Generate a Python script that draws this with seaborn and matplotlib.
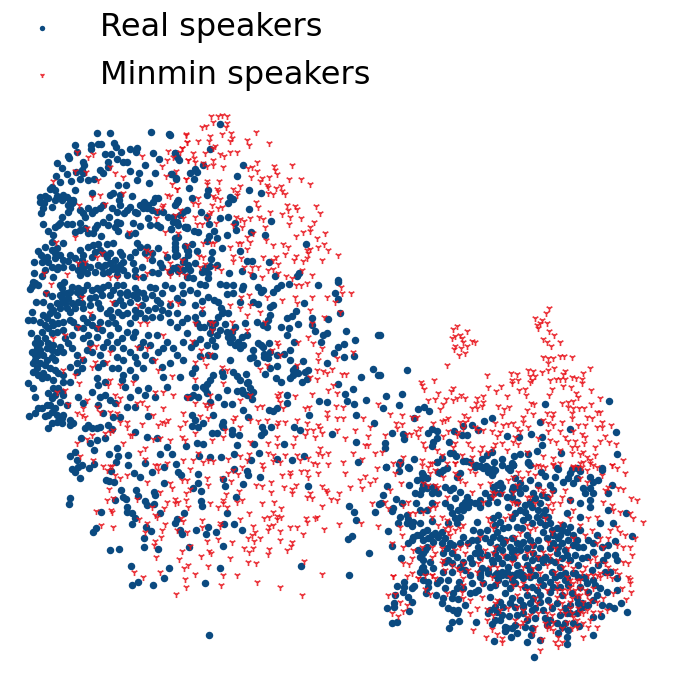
import numpy as np
import matplotlib
matplotlib.use("Agg")
import matplotlib.pyplot as plt
import seaborn as sns

# Points, grouped by area. Each group has its own origin
# and is recorded at 3x scale, as it was read.
SCALE = 3
labels = ["Real speakers", "Minmin speakers"]

origin_a = (20, 110)
real_a = [(232,68),(269,69),(393,65),(447,73),(166,106),(214,104),(233,102),(242,101),(282,100),(288,112),(329,117),(352,113),(347,125),(212,117),(170,127),(143,137),(148,144),(256,131),(274,132),(302,127),(399,129),(465,130),(112,160),(126,175),(190,157),(192,166),(263,155),(292,148),(308,155),(322,156),(376,165),(417,148),(142,192),(107,198),(167,186),(185,180),(190,188),(240,180),(250,190),(265,170),(329,182),(357,190),(404,190),(152,212),(121,215),(180,207),(204,210),(221,208),(295,224),(318,224),(351,210),(387,220),(468,207),(453,193),(95,232),(104,240),(90,237),(110,258),(74,258),(60,262),(72,280),(68,295),(95,290),(62,310),(130,255),(140,262),(150,270),(160,270),(155,280),(150,295),(145,305),(165,240),(215,250),(270,255),(280,250),(300,255),(296,270),(335,258),(240,295),(250,285),(205,295),(215,310),(190,310),(195,320),(180,340),(155,342),(125,322),(120,340),(105,350),(85,362),(98,375),(68,342),(140,342),(165,365),(195,355),(205,368),(220,370),(243,378),(232,345),(250,335),(268,320),(290,305),(312,310),(320,300),(345,307),(290,335),(285,350),(295,362),(340,340),(360,348),(373,275),(385,285),(405,265),(415,265),(395,300),(410,305),(385,325),(390,345),(412,345),(420,350),(443,320),(470,275),(475,270),(452,358),(495,350),(500,355),(360,285),(370,295),(328,375),(345,370),(95,395),(130,400),(110,415),(105,430),(55,422),(62,435),(80,440),(75,450),(42,455),(65,455),(85,455),(120,435),(130,450),(145,452),(180,420),(190,435),(205,410),(220,405),(235,402),(240,420),(225,425),(262,402),(280,400),(300,425),(305,435),(325,375),(350,400),(360,410),(380,410),(395,430),(415,415),(465,410),(470,435),(500,420),(505,435),(260,440),(270,460),(255,465),(285,450),(300,465),(235,465),(210,470),(180,465),(175,480),(155,470),(115,470),(110,478),(42,490),(65,497),(100,500),(180,495),(200,490),(225,485),(250,490),(275,478),(290,480),(310,480),(340,460),(365,470),(345,498),(395,485),(420,460),(415,490),(505,470),(500,500),
          (160,275),(145,285),(125,270),(105,270),(85,265),(60,275),(180,300),(225,300),(275,295),(300,285),(330,290),(380,295),(400,275),(430,305),(460,335),(350,310),(300,340),(265,345),(225,355),(180,360),(115,345),(75,410),(95,420),(105,445),(95,470),(150,435),(165,445),(185,450),(195,465),(215,440),(250,430),(270,430),(285,470),(310,455),(330,440),(345,425),(375,430),(395,450),(440,440),(490,455),(130,470),(75,480),(190,480),(245,470),(265,485),(290,495),(320,495),(370,500),(425,470),(470,470),(345,480)]
minmin_a = [(497,75),(502,95),(485,113),(480,125),(443,122),(460,140),(440,150),(425,167),(503,150),(468,183),(367,137),(205,140),(218,133),(170,125),(165,182),(198,185),(270,170),(285,188),(308,200),(233,210),(100,214),(437,197),(497,207),(455,222),(472,237),(440,255),(450,258),(240,255),(215,262),(177,285),(255,282),(310,250),(430,285),(480,300),(465,315),(490,325),(408,325),(200,355),(108,397),(327,365),(435,365),(475,370),(500,405),(435,430),(378,420),(390,425),(230,440),(245,430),(72,488),(140,492),(175,460),(195,455),(380,445),(450,458),(485,450),(440,480),(450,495),(478,490),(495,495),(270,500),(290,500),(355,500),(380,490),(410,300),(425,290),(165,380)]

origin_b = (170, 110)
real_b = [(150,43),(0,75),(15,130),(22,140),(26,150),(120,118),(98,165),(220,166),(7,193),(18,205),(60,190),(75,178),(82,185),(72,207),(200,199),(56,235),(115,240),(110,255),(236,240),(273,249),(65,265),(180,260),(190,267),(175,280),(22,275),(15,285),(238,296),(50,300),(40,305),(30,315),(92,305),(110,320),(10,322),(20,335),(151,323),(174,322),(195,338),(118,342),(304,334),(45,352),(50,350),(3,358),(25,345),(198,360),(132,363),(85,367),(72,362),(242,365),(285,374),(172,376),(118,378),(140,385),(110,393),(25,380),(15,385),(15,400),(65,403),(45,408),(55,422),(155,415),(15,420),(80,424),(126,427),(407,402),(15,438),(42,450),(124,447),(210,422),(230,452),(246,453),(298,457),(142,465),(76,458),(55,465),(120,468),(8,475),(25,482),(40,480),(60,480),(95,487),(105,475),(115,490),(177,490),(215,483),(250,497),(316,498),(380,497),(388,490),(115,505),(55,500),(70,505),(0,485),(505,510)]
minmin_b = [(122,18),(145,18),(155,15),(172,18),(128,35),(172,40),(168,50),(108,48),(97,52),(257,65),(47,73),(155,72),(184,70),(120,77),(186,85),(180,92),(230,90),(52,95),(84,93),(116,93),(298,100),(236,106),(135,108),(128,115),(35,113),(180,127),(202,125),(70,130),(105,130),(150,133),(162,137),(72,143),(55,150),(130,150),(75,155),(262,155),(128,165),(100,160),(158,172),(110,168),(312,168),(366,166),(245,170),(235,175),(315,180),(262,184),(322,192),(243,200),(298,200),(47,207),(275,205),(270,213),(357,206),(392,206),(112,212),(147,213),(112,222),(210,228),(420,222),(290,225),(295,230),(22,237),(140,237),(145,243),(188,238),(200,245),(332,228),(318,235),(335,243),(345,252),(295,248),(310,252),(130,257),(135,265),(150,268),(85,265),(200,255),(258,277),(85,282),(125,285),(265,290),(143,293),(155,292),(352,285),(375,288),(382,298),(438,287),(70,280),(300,305),(122,305),(355,300),(450,308),(117,312),(110,325),(75,322),(198,322),(210,328),(222,332),(240,325),(267,320),(280,328),(337,313),(360,322),(392,323),(432,335),(82,342),(97,342),(138,340),(190,345),(215,350),(285,350),(358,342),(420,350),(420,362),(400,367),(465,368),(378,378),(250,370),(232,380),(240,395),(442,385),(287,390),(98,398),(122,398),(132,398),(308,405),(338,402),(355,412),(462,403),(180,410),(205,400),(212,400),(232,418),(445,412),(412,420),(420,418),(473,420),(345,432),(415,430),(378,437),(503,435),(188,438),(88,438),(100,440),(278,442),(318,440),(412,445),(213,445),(188,452),(308,450),(372,450),(398,452),(455,450),(105,462),(222,470),(247,470),(265,470),(325,462),(135,470),(295,480),(310,478),(395,480),(152,480),(240,490),(427,494),(348,498),(275,500),(325,490),(365,503),(90,470),(30,470)]

origin_c = (20, 280)
real_c = [(45,8),(35,18),(30,28),(132,5),(125,25),(130,40),(125,55),(135,70),(155,20),(175,25),(190,30),(215,30),(232,25),(265,15),(290,15),(310,15),(345,25),(340,45),(370,40),(390,20),(435,15),(455,25),(485,15),(78,38),(97,48),(48,65),(68,67),(110,70),(90,78),(70,105),(90,100),(110,105),(35,97),(40,120),(25,120),(32,160),(100,135),(115,130),(130,125),(150,120),(150,95),(165,85),(185,70),(190,85),(210,75),(235,70),(240,85),(260,100),(275,110),(285,70),(300,60),(310,75),(330,65),(345,90),(365,75),(395,45),(405,85),(425,90),(450,75),(485,65),(490,40),(470,100),(420,110),(395,110),(375,115),(330,130),(305,105),(265,130),(240,125),(215,110),(190,115),(170,140),(130,150),(110,155),(95,160),(75,175),(60,190),(50,205),(35,215),(45,225),(60,210),(70,225),(95,230),(105,240),(80,240),(40,275),(25,310),(40,325),(45,350),(65,295),(55,285),(80,290),(105,270),(115,280),(130,285),(150,260),(170,275),(185,265),(190,240),(170,225),(155,205),(145,190),(135,175),(155,165),(190,175),(205,165),(230,170),(245,150),(270,165),(290,185),(250,200),(240,225),(305,175),(340,170),(370,185),(385,165),(410,165),(440,185),(460,205),(490,185),(500,160),(470,140),(450,125),(415,215),(395,240),(345,230),(350,250),(330,270),(310,240),(290,230),(275,265),(235,260),(230,295),(235,315),(215,335),(240,350),(270,360),(285,370),(255,345),(315,320),(305,300),(345,290),(370,265),(385,325),(375,345),(405,352),(440,320),(480,290),(430,290),(500,350),(100,325),(125,335),(105,345),(95,355),(120,365),(90,375),(55,385),(65,385),(45,400),(28,407),(75,407),(95,395),(110,405),(130,405),(125,430),(150,435),(160,430),(205,435),(215,445),(240,440),(265,435),(275,447),(300,410),(320,380),(345,380),(385,408),(345,455),(380,470),(410,475),(95,430),(85,445),(183,475),(210,490),(230,480),(255,475),(290,505),(498,498),(440,500),
          (120,15),(140,40),(120,45),(145,55),(130,65),(55,15),(40,5),(150,35),(170,35),(200,15),(240,30),(250,20),(280,30),(320,35),(355,35),(375,55),(350,55),(320,45),(300,40),(270,45),(245,45),(225,50),(180,45),(210,55),(155,70),(175,65),(140,85),(120,85),(100,90),(80,115),(60,125),(75,135),(95,125),(85,145),(65,155),(50,175),(45,190),(85,190),(100,195),(120,200),(130,215),(110,215),(95,210),(80,205),(55,225),(45,240),(60,250),(75,255),(90,265),(70,280),(50,265),(40,250),(100,300),(130,305),(150,305),(170,250),(200,210),(210,190),(230,145),(215,135),(190,145),(200,125),(160,125),(270,90),(295,95),(320,100),(345,110),(360,100),(385,90),(410,60),(425,40),(405,25),(420,70),(445,100),(470,55),(485,125),(500,115),(345,155),(320,155),(295,145),(285,130),(260,185),(275,205),(310,205),(330,215),(360,200),(390,195),(430,205),(470,225),(490,240),(450,250),(425,260),(375,225),(295,265),(310,285),(255,305),(250,250),(215,215),(130,345),(115,325),(85,340),(80,375),(105,385),(140,375),(85,405),(175,350),(190,370),(235,375),(250,400),(280,410),(330,350),(355,330),(230,445),(195,445),(150,420),(110,425),(125,415)]
minmin_c = [(92,13),(78,38),(185,50),(275,65),(355,75),(450,65),(475,70),(210,100),(235,140),(175,140),(360,130),(380,130),(430,165),(100,175),(135,165),(210,200),(228,198),(270,215),(225,245),(215,260),(350,200),(380,205),(405,240),(260,245),(185,235),(130,270),(165,285),(178,310),(415,270),(455,287),(340,305),(300,315),(265,315),(270,300),(110,335),(135,330),(200,360),(285,345),(300,355),(295,370),(405,335),(430,335),(460,345),(240,395),(230,382),(145,372),(190,385),(350,370),(365,365),(380,382),(430,385),(500,350),(170,400),(185,405),(195,410),(270,395),(290,400),(400,405),(425,425),(435,430),(320,425),(320,440),(300,425),(335,465),(365,432),(415,435),(445,420),(480,440),(495,425),(215,465),(255,460),(270,455),(280,450),(330,465),(400,478),(420,475),(450,480),(485,472),(495,480),(170,490),(200,478),(310,490),(375,505),(490,400),(505,350)]

origin_d = (190, 280)
real_d = [(22,38),(30,12),(45,15),(90,12),(108,15),(130,15),(158,18),(155,28),(205,20),(220,30),(212,35),(250,35),(260,25),(272,15),(297,12),(384,15),(444,5),(436,38),(445,58),(110,42),(130,40),(72,60),(35,62),(15,75),(150,65),(190,65),(203,72),(240,80),(250,75),(342,68),(92,85),(100,95),(115,100),(35,100),(15,110),(240,105),(200,125),(290,115),(318,92),(305,108),(367,113),(413,117),(450,100),(325,132),(365,135),(273,140),(297,145),(232,142),(30,140),(42,140),(105,132),(135,140),(165,130),(90,150),(65,145),(375,153),(400,165),(410,160),(467,152),(565,165),(82,165),(115,170),(125,175),(170,165),(30,178),(65,180),(75,197),(120,185),(135,195),(160,195),(150,205),(190,210),(212,195),(220,200),(237,188),(290,165),(312,187),(393,187),(462,192),(445,202),(495,180),(300,210),(432,218),(282,222),(30,228),(55,225),(72,228),(3,200),(190,230),(180,235),(222,230),(222,222),(120,240),(300,240),(340,243),(462,232),(493,227),(260,257),(240,265),(410,250),(15,265),(7,280),(70,285),(100,288),(130,275),(142,288),(168,282),(225,282),(308,270),(310,285),(300,295),(345,275),(355,270),(350,298),(335,305),(258,293),(272,307),(512,290),(550,268),(563,285),(445,312),(490,328),(465,342),(15,320),(50,312),(45,328),(52,340),(110,330),(140,333),(155,330),(175,305),(180,325),(190,335),(170,345),(185,358),(60,365),(85,350),(25,350),(292,345),(388,363),(410,365),(470,362),(527,361),(102,372),(127,373),(158,389),(290,370),(237,390),(250,392),(262,385),(493,373),(68,405),(5,405),(497,404),(173,411),(358,404),(100,425),(97,435),(40,428),(25,440),(5,438),(100,442),(125,450),(215,442),(243,440),(312,440),(330,450),(552,430),(65,460),(80,460),(147,465),(125,462),(222,455),(212,465),(427,462),(20,490),(40,493),(142,495),(193,491),(282,492),(497,486),(0,350),(15,420),
          (0,30),(55,50),(85,65),(95,100),(85,110),(60,130),(20,130),(75,130),(155,170),(145,185),(125,155),(110,155),(60,160),(50,195),(15,190),(220,135),(235,120),(205,190),(240,215),(260,225),(315,265),(325,280),(200,250),(235,235),(170,310),(150,300),(40,320),(10,345),(160,340),(95,275),(60,300)]
minmin_d = [(317,15),(332,15),(350,8),(453,22),(482,38),(410,50),(455,40),(315,50),(365,50),(320,68),(435,65),(275,60),(152,52),(178,45),(230,50),(360,90),(180,75),(450,95),(365,130),(402,112),(120,75),(150,85),(127,125),(210,95),(225,125),(170,105),(70,130),(60,125),(35,85),(65,150),(15,130),(130,150),(170,150),(260,185),(265,195),(245,210),(325,185),(355,170),(370,190),(395,205),(385,222),(270,225),(385,240),(440,235),(490,215),(7,183),(32,210),(60,222),(40,235),(15,245),(48,255),(95,260),(110,270),(210,268),(230,255),(320,255),(400,272),(425,268),(380,270),(455,282),(468,282),(410,280),(360,290),(380,298),(440,340),(430,315),(15,298),(270,340),(265,355),(260,345),(315,348),(365,343),(415,330),(60,345),(100,310),(180,345),(150,360),(270,365),(280,385),(15,370),(50,380),(45,372),(62,375),(358,380),(345,385),(438,378),(460,382),(565,372),(215,378),(200,380),(410,395),(410,410),(520,415),(540,440),(30,408),(55,415),(135,412),(130,420),(180,420),(205,422),(230,420),(265,425),(285,425),(320,420),(350,430),(385,435),(390,445),(440,415),(460,415),(105,450),(15,460),(150,440),(260,435),(350,450),(370,450),(395,460),(495,450),(535,468),(440,450),(65,480),(100,470),(180,485),(235,490),(260,470),(315,470),(345,465),(375,470),(390,505),(465,475),(525,495),(535,495),(262,495),(310,495)]

origin_e = (60, 450)
real_e = [(45,7),(30,17),(50,30),(103,0),(147,12),(175,17),(204,15),(299,12),(335,12),(418,17),(450,20),(482,22),(521,12),(596,9),(573,30),(650,28),(697,30),(732,18),(893,35),(168,35),(205,45),(254,40),(313,52),(347,43),(523,58),(66,45),(53,50),(37,57),(45,65),(86,54),(101,42),(154,62),(223,70),(240,82),(275,66),(355,65),(363,75),(415,71),(561,62),(565,75),(599,82),(61,83),(138,90),(146,92),(162,96),(312,100),(415,98),(398,113),(488,88),(495,108),(549,102),(743,109),(228,119),(184,121),(282,125),(284,135),(424,122),(190,140),(235,137),(197,148),(166,151),(30,144),(27,161),(254,153),(261,165),(281,161),(422,153),(427,168),(528,142),(866,167),(956,161),(200,170),(200,185),(122,187),(215,188),(301,188),(373,190),(502,190),(883,185),(944,187),(225,205),(352,206),(344,218),(216,222),(889,210),(493,222),(523,222),(259,231),(445,230),(109,233),(98,245),(273,243),(361,240),(367,252),(408,239),(439,252),(469,245),(547,241),(251,265),(875,257),(865,267),(252,291),(293,298),(388,292),(488,289),(150,300),(178,296),(928,310),(214,347),(327,353),(480,353),(724,348),(311,383),(868,376),(233,397),(216,404),(279,404),(436,399),(448,556)]
minmin_e = [(60,17),(100,30),(128,47),(150,48),(155,47),(255,28),(240,5),(285,45),(295,45),(320,38),(370,30),(400,30),(415,10),(430,35),(445,30),(460,32),(505,28),(540,17),(568,12),(560,30),(545,52),(625,10),(640,15),(605,42),(640,33),(660,35),(675,15),(710,15),(720,30),(745,25),(760,40),(770,42),(775,10),(785,15),(805,8),(805,42),(850,35),(880,8),(905,27),(945,10),(950,55),(140,60),(165,75),(180,85),(200,75),(295,60),(390,58),(505,70),(520,60),(535,72),(610,55),(690,65),(665,75),(690,75),(722,62),(742,62),(745,80),(775,68),(855,68),(915,78),(900,90),(945,88),(930,98),(365,90),(380,90),(440,85),(262,96),(330,100),(335,115),(443,105),(485,85),(512,93),(587,105),(607,108),(632,97),(672,110),(708,105),(785,108),(798,120),(870,110),(905,113),(147,117),(300,125),(378,130),(390,118),(537,122),(497,132),(634,125),(695,118),(695,130),(750,128),(742,140),(757,145),(802,125),(838,130),(140,150),(158,145),(230,148),(345,147),(378,150),(345,160),(355,155),(450,158),(490,150),(530,155),(547,150),(641,155),(606,160),(812,147),(830,150),(320,155),(275,170),(313,175),(385,172),(475,170),(490,160),(502,172),(663,175),(786,168),(937,160),(107,183),(153,180),(155,187),(285,195),(290,200),(568,188),(640,185),(612,203),(628,200),(650,198),(662,200),(650,207),(738,205),(765,205),(772,200),(540,207),(362,205),(368,213),(425,210),(236,207),(260,218),(315,222),(305,240),(123,225),(160,232),(425,230),(480,218),(480,228),(578,228),(628,228),(640,226),(625,240),(690,231),(710,230),(740,215),(793,237),(837,222),(903,220),(955,227),(350,240),(380,245),(255,247),(585,245),(575,255),(660,243),(730,252),(303,262),(285,272),(283,285),(440,272),(473,268),(565,265),(600,265),(583,272),(516,276),(661,269),(695,275),(693,288),(390,288),(552,295),(580,293),(626,298),(682,300),(365,302),(447,302),(453,308),(568,307),(623,313),(289,320),(422,318),(509,323),(358,328),(565,335),(587,340),(733,332),(373,355),(384,346),(443,347),(223,366),(299,366),(405,371),(490,375),(530,374),(787,371),(249,380),(375,387),(591,397),(377,411),(483,405),(660,412),(349,433),(727,435)]

origin_f = (380, 300)
real_f = [(0,105),(80,209),(0,225),(17,287),(66,282),(57,315),(9,325),(113,328),(132,320),(147,334),(102,355),(336,355),(312,364),(480,367),(248,377),(275,376),(295,390),(156,386),(172,394),(223,392),(145,400),(37,398),(69,402),(72,418),(170,413),(160,425),(155,438),(245,405),(262,405),(380,407),(453,403),(485,411),(417,412),(571,386),(208,425),(15,430),(15,445),(485,436),(470,452),(543,460),(210,460),(218,458),(228,468),(320,466),(305,478),(402,468),(420,462),(443,462),(335,457),(170,485),(250,484),(258,483),(342,486),(365,478),(395,490),(398,495),(445,485),(450,495),(287,494),(300,498),(318,498),(367,495),(325,505),(60,485),(57,493),(87,503),(102,478),(18,500),(494,311),(688,304),(707,396),(712,462),(200,503),(340,506),(530,505),(575,507),(590,505),(665,505),(185,475)]
minmin_f = [(508,23),(498,40),(464,53),(487,60),(480,68),(500,68),(470,75),(475,85),(507,92),(523,104),(489,118),(502,126),(541,127),(514,139),(232,78),(219,88),(261,92),(240,105),(225,108),(217,113),(245,115),(275,122),(285,126),(250,125),(260,137),(225,137),(243,145),(222,148),(255,158),(238,165),(201,196),(489,172),(505,175),(520,173),(540,168),(553,168),(575,170),(505,190),(630,203),(393,218),(445,210),(458,212),(485,215),(505,210),(523,205),(555,212),(548,222),(610,218),(322,225),(412,222),(450,228),(465,228),(163,240),(395,240),(415,240),(395,250),(455,240),(450,246),(510,240),(527,236),(540,238),(555,238),(575,232),(587,235),(605,238),(607,248),(122,247),(127,255),(132,266),(362,257),(325,262),(348,273),(417,270),(435,268),(220,263),(212,272),(175,278),(515,268),(550,258),(572,260),(632,270),(437,285),(382,288),(507,285),(587,280),(593,290),(243,285),(255,295),(232,293),(290,293),(310,288),(144,300),(165,298),(197,298),(220,300),(660,295),(308,305),(305,318),(288,310),(275,325),(290,325),(545,310),(565,305),(580,303),(634,313),(452,310),(463,312),(355,318),(387,322),(373,328),(181,328),(190,312),(565,320),(580,325),(598,325),(612,325),(440,330),(650,335),(660,337),(500,340),(520,338),(575,340),(30,343),(66,344),(365,345),(460,343),(428,350),(253,345),(95,352),(110,352),(205,355),(185,362),(195,360),(515,350),(620,350),(637,355),(490,360),(47,368),(65,372),(160,368),(240,365),(255,365),(265,355),(345,370),(370,375),(385,372),(400,368),(430,365),(505,370),(520,375),(547,365),(575,355),(593,375),(615,375),(667,367),(693,376),(650,382),(665,380),(50,385),(120,385),(108,392),(205,393),(235,395),(250,385),(285,380),(295,390),(310,390),(335,392),(360,395),(410,385),(420,392),(445,380),(505,392),(540,393),(580,393),(15,405),(80,403),(92,403),(115,408),(190,408),(230,405),(350,408),(405,410),(555,412),(605,403),(615,410),(675,408),(475,415),(510,420),(527,425),(563,423),(585,422),(612,430),(660,422),(687,425),(708,433),(130,428),(135,445),(225,430),(265,428),(365,430),(400,425),(345,432),(415,432),(590,442),(575,440),(610,455),(645,442),(5,455),(170,450),(220,440),(275,445),(305,440),(340,445),(380,450),(440,455),(540,450),(575,460),(600,462),(645,466),(620,472),(185,465),(245,465),(275,470),(300,455),(325,455),(490,468),(520,475),(70,470),(125,480),(155,490),(225,488),(272,490),(465,497),(483,497),(520,495),(540,490),(608,487),(630,480),(730,480),(695,495),(710,505),(125,495),(40,490),(580,500),(595,500),(640,495)]

origin_g = (380, 460)
real_g = [(18,20),(60,10),(85,22),(58,33),(125,38),(125,55),(110,60),(140,55),(180,40),(190,30),(170,5),(270,5),(300,18),(340,35),(345,30),(385,25),(400,15),(88,75),(22,78),(8,105),(47,118),(65,128),(3,130),(40,145),(35,152),(108,130),(125,88),(120,102),(105,100),(155,100),(160,80),(195,82),(220,85),(240,95),(225,115),(260,110),(270,125),(315,100),(350,75),(365,80),(345,95),(380,110),(395,90),(265,140),(250,150),(300,140),(325,130),(350,125),(385,140),(60,170),(85,178),(80,190),(55,190),(95,198),(120,190),(155,183),(140,210),(23,212),(100,230),(120,225),(145,235),(165,220),(195,235),(210,250),(240,170),(290,185),(320,210),(345,195),(350,215),(340,230),(300,215),(250,230),(280,210),(85,250),(35,258),(140,260),(130,280),(120,290),(130,300),(125,325),(63,293),(160,325),(190,280),(215,280),(230,290),(295,260),(300,275),(275,310),(320,285),(325,330),(350,260),(370,250),(390,260),(365,310),(385,320),(215,335),(400,295),(350,340),(300,345),(270,345),(130,320),
          (130,45),(175,35),(230,50),(240,40),(285,20),(310,25),(325,35),(335,45),(360,70),(340,80),(360,100),(330,110),(300,120),(285,130),(255,125),(245,135),(210,90),(175,100),(165,90),(140,85),(130,75),(215,160),(225,175),(230,190),(205,190),(185,215),(175,230),(155,225),(130,215),(110,225),(95,240),(130,240),(160,245),(185,250),(200,265),(220,255),(240,250),(265,250),(275,240),(290,240),(315,235),(330,245),(360,235),(375,240),(395,235),(340,175),(355,165),(360,185),(370,205),(385,200),(300,290),(285,280),(270,295),(250,305),(205,300),(215,310),(195,305),(150,305),(135,270),(115,270),(135,335),(305,325),(340,310),(355,295),(380,290),(395,275),(365,270),(345,280),(335,300),(395,345),(380,345),(365,335),(240,320),(255,330),(100,185),(80,165),(155,130),(140,150),(120,150),(195,130),(210,140),(235,150)]
minmin_g = [(45,40),(62,70),(30,90),(15,125),(25,145),(68,135),(85,125),(90,160),(105,160),(130,155),(150,145),(165,140),(185,170),(200,180),(210,200),(205,215),(60,200),(67,225),(35,250),(68,262),(125,260),(155,290),(165,280),(97,295),(87,313),(70,310),(40,348),(113,355),(155,345),(135,345),(185,310),(232,325),(250,310),(295,310),(305,295),(260,255),(345,100),(340,110),(150,10),(200,10),(225,10),(270,30),(285,40),(190,50),(150,40),(165,30),(225,40),(235,50),(165,75),(175,80),(60,10),(345,260),(370,285),(325,175),(250,195),(240,205),(225,270),(145,20),
            (130,70),(145,75),(240,60),(255,70),(300,75),(330,70),(335,95),(365,100),(385,60),(275,95),(310,125),(200,110),(170,130),(155,170),(175,195),(195,205),(225,210),(210,225),(340,205),(330,190),(300,230),(375,175),(390,165),(240,260),(185,265),(155,260),(100,270),(190,300),(215,315),(255,280),(315,270),(340,280),(380,240),(395,305),(330,320),(350,320),(265,330),(290,335),(195,330),(95,340),(165,355),(250,355)]

origin_h = (510, 460)
real_h = [(8,15),(55,10),(145,28),(92,35),(105,48),(135,50),(85,75),(120,75),(60,60),(180,40),(210,32),(240,50),(275,30),(160,65),(190,70),(220,85),(250,100),(295,100),(305,75),(30,100),(20,125),(75,115),(90,130),(45,135),(45,155),(105,150),(210,130),(240,140),(180,120),(240,120),(295,150),(347,160),(310,190),(270,190),(210,170),(170,160),(80,170),(40,180),(65,190),(120,190),(20,200),(35,205),(100,215),(140,205),(170,215),(210,210),(260,225),(365,228),(315,243),(235,240),(145,235),(150,225),(50,225),(10,235),(20,250),(70,255),(90,265),(130,250),(190,255),(205,260),(250,275),(315,285),(165,270),(140,280),(30,270),(45,290),(10,295),(65,300),(105,290),(180,300),(205,315),(230,290),(290,285),(320,300),(300,335),(20,315),(60,330),(15,345),(150,320),(135,305),(190,340),(225,355),(320,355),(105,350),
          (10,80),(25,85),(5,110),(15,160),(5,175),(60,125),(65,140),(85,150),(100,165),(115,170),(30,150),(55,170),(90,185),(105,195),(125,210),(130,225),(160,195),(155,210),(180,200),(190,225),(175,240),(155,250),(110,235),(85,240),(60,240),(40,245),(30,255),(15,270),(50,265),(70,280),(85,295),(100,305),(120,300),(120,265),(145,260),(200,240),(220,260),(250,250),(275,260),(295,255),(280,300),(265,315),(245,330),(215,295),(195,285),(170,285),(155,295),(85,320),(75,345),(40,345),(30,335),(50,315),(125,335),(135,350),(165,340),(170,355),(205,350),(285,335),(240,85),(225,100),(265,60),(250,65),(200,55),(175,55),(130,90),(110,110),(95,105),(70,100),(45,85),(30,70),(15,55),(0,30)]
minmin_h = [(128,12),(85,15),(105,20),(190,18),(215,20),(232,30),(345,40),(305,15),(25,35),(55,35),(75,45),(35,55),(10,50),(275,45),(285,90),(295,80),(325,85),(340,88),(363,115),(380,120),(305,135),(180,120),(130,130),(115,135),(75,130),(125,150),(280,125),(360,160),(370,175),(400,185),(330,155),(310,150),(150,190),(180,175),(210,195),(300,210),(330,215),(360,260),(340,260),(270,235),(295,235),(280,260),(320,255),(365,285),(355,310),(340,305),(295,320),(255,290),(260,310),(175,265),(135,265),(100,275),(65,275),(40,320),(70,325),(110,315),(160,320),(215,335),(250,345),(270,350),(355,350),(15,130),(60,210),(125,95),(20,75),(210,10),(240,10),(60,110),(85,85),(100,100),
            (10,95),(5,125),(25,130),(50,110),(100,90),(120,110),(150,130),(105,175),(50,195),(30,220),(15,230),(75,205),(125,215),(115,245),(65,255),(20,285),(50,280),(85,290),(120,285),(190,235),(225,225),(245,210),(260,250),(240,300),(225,320),(145,300),(175,310),(190,325),(90,340),(60,345),(135,335),(305,355),(285,310),(315,330),(375,235),(345,225),(320,200),(260,170),(235,175),(190,150),(155,110),(165,90),(210,55),(260,20),(230,65)]

origin_i = (380, 570)
real_i = [(120,5),(190,5),(50,47),(72,37),(72,50),(103,48),(96,55),(128,30),(145,50),(170,40),(195,55),(220,70),(237,35),(190,85),(185,100),(205,115),(235,120),(230,128),(237,152),(215,157),(206,174),(287,155),(137,70),(168,75),(70,65),(85,80),(95,97),(45,75),(42,100),(42,110),(22,115),(87,122),(37,158),(52,155),(270,70),(300,20),(310,40),(325,10),(345,45),(375,70),(390,55),(330,120),(352,127),(335,162),(360,150),(388,138),(430,130),(375,170),(375,182),(405,165),(410,188),(392,200),(342,213),(442,217),(452,195),(465,145),(490,120),(495,145),(500,165),(535,190),(560,200),(562,222),(461,262),(638,196),(598,168),(740,125),(722,98),(702,115),(686,107),(664,137),(570,130),(545,75),(595,100),(510,35),(470,60),(420,15),(380,5),(410,10),(450,20),(540,15),(585,10),(640,30),(690,5),(710,60),(660,55),(610,20),(440,75),(420,90),(465,115),(505,90),(560,130),(580,160),(235,88),(255,105),(285,65),(330,80),(360,95),(520,50),(625,65),(640,90),(480,210),(565,180),
          (300,5),(345,15),(355,30),(365,15),(395,30),(405,40),(430,25),(435,50),(455,50),(480,30),(490,45),(525,20),(555,30),(565,45),(540,50),(575,70),(590,85),(605,100),(600,115),(570,105),(555,115),(530,100),(515,115),(480,95),(450,100),(430,105),(405,110),(390,100),(370,110),(345,110),(325,130),(345,150),(365,135),(410,135),(430,110),(455,120),(440,150),(395,175),(380,175),(455,175),(435,170),(510,150),(530,160),(545,170),(555,160),(540,135),(590,130),(610,110),(625,105),(650,75),(680,65),(645,45),(620,40),(600,50),(665,105),(640,140),(215,85),(220,120),(275,40),(250,55),(230,55),(205,30),(180,30),(145,35),(510,65),(480,75),(460,85),(395,85),(375,40),(330,50),(295,60)]
minmin_i = [(40,18),(80,18),(115,25),(155,15),(25,75),(45,72),(60,95),(80,105),(68,122),(35,128),(55,138),(135,58),(150,72),(200,70),(245,65),(250,85),(270,90),(290,115),(270,130),(305,80),(320,118),(280,180),(318,202),(350,192),(367,203),(365,217),(335,178),(430,155),(465,170),(487,208),(480,240),(525,215),(535,227),(547,215),(608,200),(624,172),(652,170),(520,155),(500,175),(520,180),(640,125),(680,120),(737,88),(752,65),(725,55),(717,12),(750,28),(750,38),(680,15),(650,15),(580,40),(590,75),(620,75),(545,100),(570,115),(590,150),(630,150),(500,130),(350,90),(345,100),(410,75),(430,40),(250,45),(240,5),(305,40),(335,20),(400,45),(470,100),(510,170),(560,20),(600,30),(660,10),(700,70),(610,130),(410,110),(440,140),
            (350,40),(390,20),(440,15),(475,45),(500,60),(530,40),(570,50),(600,55),(640,55),(670,85),(650,95),(610,95),(575,85),(555,75),(540,120),(515,135),(495,160),(475,130),(450,135),(430,120),(385,115),(360,120),(340,135),(320,150),(560,155),(580,140),(600,125),(620,120),(660,125),(545,175),(575,175),(405,150),(420,165),(460,190),(535,200),(590,170),(610,160),(590,30),(625,15),(530,80),(570,95),
            (545,60),(560,60),(585,60),(600,75),(570,30),(615,60),(630,90),(595,115),(575,130),(555,130),(530,60),(510,105),(465,85),(440,60),(420,50)]

areas = [
    (origin_a, real_a, minmin_a), (origin_b, real_b, minmin_b), (origin_c, real_c, minmin_c),
    (origin_d, real_d, minmin_d), (origin_e, real_e, minmin_e), (origin_f, real_f, minmin_f),
    (origin_g, real_g, minmin_g), (origin_h, real_h, minmin_h), (origin_i, real_i, minmin_i),
]

def gather(column):
    parts = [np.array(a[0]) + np.array(a[column]) / SCALE for a in areas]
    return np.vstack(parts)

real = gather(1)
minmin = gather(2)

sns.set_theme(style="white")
plt.rcParams["font.family"] = ["DejaVu Sans"]
fig = plt.figure(figsize=(6.82, 6.93), dpi=100)
ax = fig.add_axes([0, 0, 1, 1])

sns.scatterplot(x=real[:, 0], y=real[:, 1], ax=ax, color="#0b4a80", marker="o",
                s=29, linewidth=0, label=labels[0], zorder=2)
sns.scatterplot(x=minmin[:, 0], y=minmin[:, 1], ax=ax, color="#e8141c", marker="1",
                s=26, linewidth=1.2, alpha=0.85, label=labels[1], zorder=3)

ax.set_xlim(0, 682)
ax.set_ylim(693, 0)
ax.axis("off")
ax.legend(loc="upper left", bbox_to_anchor=(0.0, 0.997), frameon=False, fontsize=23,
          labelcolor="black", handletextpad=0.81, handlelength=2.0, labelspacing=0.52,
          borderaxespad=0.0, borderpad=0.31, markerscale=0.72)
fig.savefig("out.png", dpi=100)
